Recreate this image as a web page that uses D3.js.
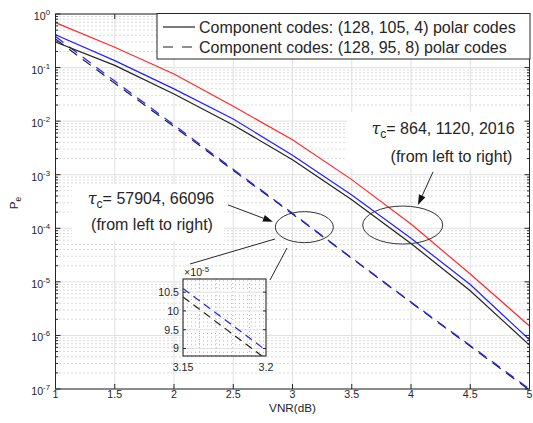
<!DOCTYPE html>
<html><head><meta charset="utf-8">
<script src="https://cdn.jsdelivr.net/npm/d3@7"></script>
<style>
body{margin:0;background:#fff;}
text{font-family:"Liberation Sans",Arial,Helvetica,sans-serif;fill:#262626;}
</style>
</head><body>
<svg id="c" width="533" height="423"></svg>
<script>
// ---------------- data ----------------
const vnr = [1, 1.5, 2, 2.5, 3, 3.5, 4, 4.5, 5];
// solid lines: component codes (128,105,4)
const pe864  = [0.30, 0.11, 0.032, 0.0085, 1.9e-3, 3.4e-4, 5.2e-5, 6.8e-6, 6.6e-7];
const pe1120 = [0.41, 0.135, 0.040, 0.011, 2.3e-3, 4.2e-4, 6.5e-5, 8.9e-6, 8.3e-7];
const pe2016 = [0.69, 0.24, 0.076, 0.019, 4.5e-3, 8.1e-4, 1.2e-4, 1.4e-5, 1.5e-6];
// dashed lines: component codes (128,95,8)
const pe57904 = [0.34, 0.051, 0.0079, 1.2e-3, 1.85e-4, 2.75e-5, 4.1e-6, 6.3e-7, 0.95e-7];
const pe66096 = [0.38, 0.056, 0.0085, 1.26e-3, 1.9e-4, 2.8e-5, 4.2e-6, 6.5e-7, 1.0e-7];

const xTicks = [1, 1.5, 2, 2.5, 3, 3.5, 4, 4.5, 5];
const xTickLabels = ["1", "1.5", "2", "2.5", "3", "3.5", "4", "4.5", "5"];
const yTickExps = [0, -1, -2, -3, -4, -5, -6, -7];
const legendLabels = ["Component codes: (128, 105, 4) polar codes", "Component codes: (128, 95, 8) polar codes"];

// inset (zoom) data, units of 1e-5
const insetX = [3.15, 3.2];
const insetBlue = [10.6, 8.95];
const insetBlack = [10.37, 8.72];
const insetYTicks = [9, 9.5, 10, 10.5];
const insetYTickLabels = ["9", "9.5", "10", "10.5"];
const insetXTicks = [3.15, 3.2];
const insetXTickLabels = ["3.15", "3.2"];

// ---------------- layout ----------------
const svg = d3.select("#c");
const L = 55.5, R = 529.5, T = 14, B = 389;
const x = d3.scaleLinear([1, 5], [L, R]);
const y = d3.scaleLog([1e-7, 1], [B, T]);
const AX = "#262626";
const cBlack = "#222", cBlue = "#2222ff", cRed = "#ff2a2a";

svg.append("rect").attr("x", 0).attr("y", 0).attr("width", 533).attr("height", 423).attr("fill", "#fff");

// grid
const grid = svg.append("g");
const minorY = [];
for (let k = -7; k < 0; k++) for (let m = 2; m <= 9; m++) minorY.push(m * Math.pow(10, k));
grid.selectAll(".mny").data(minorY).join("line")
  .attr("x1", L).attr("x2", R).attr("y1", d => y(d)).attr("y2", d => y(d))
  .attr("stroke", "#b8b8b8").attr("stroke-width", 1).attr("stroke-dasharray", "1,3");
grid.selectAll(".mjy").data(yTickExps).join("line")
  .attr("x1", L).attr("x2", R).attr("y1", d => y(Math.pow(10, d))).attr("y2", d => y(Math.pow(10, d)))
  .attr("stroke", "#e0e0e0").attr("stroke-width", 1);
grid.selectAll(".mjx").data(xTicks).join("line")
  .attr("x1", d => x(d)).attr("x2", d => x(d)).attr("y1", T).attr("y2", B)
  .attr("stroke", "#e0e0e0").attr("stroke-width", 1);

// white text backgrounds of annotations
svg.append("rect").attr("x", 72).attr("y", 184).attr("width", 152).attr("height", 57).attr("fill", "#fff");
svg.append("rect").attr("x", 347).attr("y", 112).attr("width", 180).attr("height", 57).attr("fill", "#fff");

// lines
const clip = svg.append("clipPath").attr("id", "pc").append("rect")
  .attr("x", L).attr("y", T).attr("width", R - L).attr("height", B - T);
const line = d3.line().x((d, i) => x(vnr[i])).y(d => y(d));
const plot = svg.append("g").attr("clip-path", "url(#pc)");
const series = [
  {v: pe57904, c: cBlack, dash: "10,7"},
  {v: pe66096, c: cBlue, dash: "10,7"},
  {v: pe864, c: cBlack, dash: null},
  {v: pe1120, c: cBlue, dash: null},
  {v: pe2016, c: cRed, dash: null}
];
series.forEach(s => {
  plot.append("path").attr("d", line(s.v)).attr("fill", "none")
    .attr("stroke", s.c).attr("stroke-width", 1.2)
    .attr("stroke-dasharray", s.dash);
});

// axes box + ticks
const ax = svg.append("g");
ax.append("rect").attr("x", L).attr("y", T).attr("width", R - L).attr("height", B - T)
  .attr("fill", "none").attr("stroke", AX).attr("stroke-width", 1);
xTicks.forEach(t => {
  ax.append("line").attr("x1", x(t)).attr("x2", x(t)).attr("y1", B).attr("y2", B - 5).attr("stroke", AX);
  ax.append("line").attr("x1", x(t)).attr("x2", x(t)).attr("y1", T).attr("y2", T + 5).attr("stroke", AX);
});
yTickExps.forEach(e => {
  const py = y(Math.pow(10, e));
  ax.append("line").attr("x1", L).attr("x2", L + 5).attr("y1", py).attr("y2", py).attr("stroke", AX);
  ax.append("line").attr("x1", R).attr("x2", R - 5).attr("y1", py).attr("y2", py).attr("stroke", AX);
});
minorY.forEach(v => {
  const py = y(v);
  ax.append("line").attr("x1", L).attr("x2", L + 2.6).attr("y1", py).attr("y2", py).attr("stroke", AX);
  ax.append("line").attr("x1", R).attr("x2", R - 2.6).attr("y1", py).attr("y2", py).attr("stroke", AX);
});

// tick labels
xTicks.forEach((t, i) => {
  ax.append("text").attr("x", x(t)).attr("y", B + 8.5).attr("text-anchor", "middle")
    .attr("font-size", 10.67).text(xTickLabels[i]);
});
yTickExps.forEach(e => {
  const py = y(Math.pow(10, e));
  const tx = ax.append("text").attr("x", 50).attr("y", py + 6).attr("text-anchor", "end").attr("font-size", 10.67);
  tx.append("tspan").text("10");
  tx.append("tspan").attr("dy", -5).attr("font-size", 7.8).text(e === 0 ? "0" : "-" + Math.abs(e));
});

// axis labels
svg.append("text").attr("x", (L + R) / 2).attr("y", 411.5).attr("text-anchor", "middle")
  .attr("font-size", 11.7).text("VNR(dB)");
const yl = svg.append("text").attr("transform", "translate(18,203) rotate(-90)")
  .attr("text-anchor", "middle").attr("font-size", 11.7);
yl.append("tspan").text("P");
yl.append("tspan").attr("dy", 3).attr("font-size", 8.5).text("e");

// legend
const lg = svg.append("g");
lg.append("rect").attr("x", 157).attr("y", 13.5).attr("width", 373).attr("height", 45.5)
  .attr("fill", "#fff").attr("stroke", AX).attr("stroke-width", 1);
legendLabels.forEach((lab, i) => {
  const cy = 27 + i * 20;
  lg.append("line").attr("x1", 163).attr("x2", 195).attr("y1", cy).attr("y2", cy)
    .attr("stroke", cBlack).attr("stroke-width", 1.2).attr("stroke-dasharray", i === 1 ? "10,9" : null);
  lg.append("text").attr("x", 199).attr("y", cy + 5.7).attr("font-size", 16).text(lab);
});

// annotations (positions in data units)
function tauText(cx, by, rest) {
  const t = svg.append("text").attr("x", cx).attr("y", by).attr("text-anchor", "middle").attr("font-size", 16);
  t.append("tspan").attr("font-family", "DejaVu Serif, serif").attr("font-style", "italic").text("τ");
  t.append("tspan").attr("dy", 4).attr("font-size", 12).text("c");
  t.append("tspan").attr("dy", -4).text(rest);
}
function arrow(x1, y1, x2, y2) {
  const px1 = x(x1), py1 = y(y1), px2 = x(x2), py2 = y(y2);
  const dx = px2 - px1, dy = py2 - py1, len = Math.hypot(dx, dy);
  const ux = dx / len, uy = dy / len, hl = 10, hw = 3.5;
  svg.append("line").attr("x1", px1).attr("y1", py1).attr("x2", px2 - ux * hl).attr("y2", py2 - uy * hl)
    .attr("stroke", AX).attr("stroke-width", 1);
  const bx = px2 - ux * hl, by = py2 - uy * hl;
  svg.append("path").attr("d", `M${px2},${py2}L${bx - uy * hw},${by + ux * hw}L${bx + uy * hw},${by - ux * hw}Z`)
    .attr("fill", "#111");
}
// right annotation
tauText(443, 133.5, "= 864, 1120, 2016");
svg.append("text").attr("x", 451.5).attr("y", 161.5).attr("text-anchor", "middle").attr("font-size", 16).text("(from left to right)");
svg.append("ellipse").attr("cx", x(3.93)).attr("cy", y(1.15e-4)).attr("rx", 40).attr("ry", 19)
  .attr("fill", "none").attr("stroke", "#333").attr("stroke-width", 1);
arrow(4.186, 1.13e-3, 4.059, 2.73e-4);
// left annotation
tauText(151, 203.5, "= 57904, 66096");
svg.append("text").attr("x", 152, ).attr("y", 229.5).attr("text-anchor", "middle").attr("font-size", 16).text("(from left to right)");
svg.append("ellipse").attr("cx", x(3.10)).attr("cy", y(1.05e-4)).attr("rx", 29).attr("ry", 15.5)
  .attr("fill", "none").attr("stroke", "#333").attr("stroke-width", 1);
arrow(2.456, 2.73e-4, 2.835, 1.32e-4);
// connector lines to inset
svg.append("line").attr("x1", 275).attr("y1", 239).attr("x2", 190).attr("y2", 264).attr("stroke", AX);
svg.append("line").attr("x1", 287).attr("y1", 248).attr("x2", 270).attr("y2", 280).attr("stroke", AX);

// ---------------- inset ----------------
const iL = 183, iR = 266, iT = 279, iB = 356;
const ix = d3.scaleLinear([3.15, 3.2], [iL, iR]);
const iy = d3.scaleLinear([8.8, 10.85], [iB, iT]);
const ins = svg.append("g");
ins.append("rect").attr("x", iL).attr("y", iT).attr("width", iR - iL).attr("height", iB - iT).attr("fill", "#fff");
const iMinY = d3.range(88, 109).map(v => v / 10).filter(v => Math.abs(v * 2 - Math.round(v * 2)) > 1e-6);
ins.selectAll(".imy").data(iMinY).join("line")
  .attr("x1", iL).attr("x2", iR).attr("y1", d => iy(d)).attr("y2", d => iy(d))
  .attr("stroke", "#b8b8b8").attr("stroke-dasharray", "1,3");
const iMinX = [3.16, 3.17, 3.18, 3.19];
ins.selectAll(".imx").data(iMinX).join("line")
  .attr("x1", d => ix(d)).attr("x2", d => ix(d)).attr("y1", iT).attr("y2", iB)
  .attr("stroke", "#b8b8b8").attr("stroke-dasharray", "1,3");
ins.selectAll(".ijy").data(insetYTicks).join("line")
  .attr("x1", iL).attr("x2", iR).attr("y1", d => iy(d)).attr("y2", d => iy(d))
  .attr("stroke", "#e0e0e0");
svg.append("clipPath").attr("id", "ic").append("rect")
  .attr("x", iL).attr("y", iT).attr("width", iR - iL).attr("height", iB - iT);
const iline = d3.line().x((d, i) => ix(insetX[i])).y(d => iy(d));
const ip = ins.append("g").attr("clip-path", "url(#ic)");
ip.append("path").attr("d", iline(insetBlack)).attr("fill", "none").attr("stroke", cBlack)
  .attr("stroke-width", 1.2).attr("stroke-dasharray", "8,5");
ip.append("path").attr("d", iline(insetBlue)).attr("fill", "none").attr("stroke", cBlue)
  .attr("stroke-width", 1.2).attr("stroke-dasharray", "8,5");
ins.append("rect").attr("x", iL).attr("y", iT).attr("width", iR - iL).attr("height", iB - iT)
  .attr("fill", "none").attr("stroke", "#3a3a3a").attr("stroke-width", 1.2);
insetYTicks.forEach((t, i) => {
  ins.append("text").attr("x", 179).attr("y", iy(t) + 3.8).attr("text-anchor", "end")
    .attr("font-size", 10.67).text(insetYTickLabels[i]);
  ins.append("line").attr("x1", iL).attr("x2", iL + 3).attr("y1", iy(t)).attr("y2", iy(t)).attr("stroke", AX);
  ins.append("line").attr("x1", iR).attr("x2", iR - 3).attr("y1", iy(t)).attr("y2", iy(t)).attr("stroke", AX);
});
insetXTicks.forEach((t, i) => {
  ins.append("text").attr("x", ix(t)).attr("y", 371).attr("text-anchor", "middle")
    .attr("font-size", 10.67).text(insetXTickLabels[i]);
});
const ex = ins.append("text").attr("x", 184).attr("y", 276).attr("font-size", 10.67);
ex.append("tspan").text("×10");
ex.append("tspan").attr("dy", -4.5).attr("font-size", 7.8).text("-5");
</script>
</body></html>
